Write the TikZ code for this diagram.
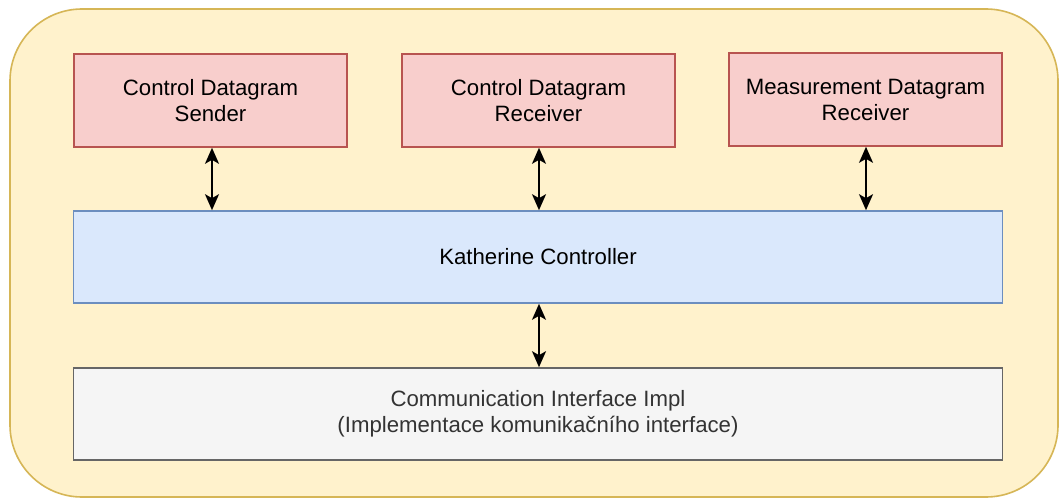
\documentclass[tikz,border=0pt]{standalone}
\usepackage{fontspec}
\setmainfont{Liberation Sans}
\usetikzlibrary{arrows.meta}
\definecolor{outerfill}{HTML}{FFF2CC}
\definecolor{outerline}{HTML}{D6B656}
\definecolor{redfill}{HTML}{F8CECC}
\definecolor{redline}{HTML}{B85450}
\definecolor{bluefill}{HTML}{DAE8FC}
\definecolor{blueline}{HTML}{6C8EBF}
\definecolor{grayfill}{HTML}{F5F5F5}
\definecolor{grayline}{HTML}{666666}
\definecolor{graytext}{HTML}{333333}
\tikzset{
  x=1pt, y=-1pt,
  box/.style={draw, line width=1.6pt, minimum width=273pt, minimum height=93pt,
    align=center, inner sep=0pt, font=\fontsize{22.2}{26}\selectfont},
  redbox/.style={box, fill=redfill, draw=redline},
  widebox/.style={box, minimum width=929pt, minimum height=92pt},
  link/.style={line width=2pt,
    arrows={Stealth[length=16pt,width=14pt,inset=4pt]-Stealth[length=16pt,width=14pt,inset=4pt]}}
}
\begin{document}
\begin{tikzpicture}
  \useasboundingbox (0,0) rectangle (1060,503);
  \fill[white] (0,0) rectangle (1060,503);
  % enclosing component
  \draw[line width=1.6pt, draw=outerline, fill=outerfill, rounded corners=72pt]
    (10,9) rectangle (1058,497);
  % datagram components
  \node[redbox] (sender) at (210.5,100.5) {Control Datagram\\Sender};
  \node[redbox] (ctrlrecv) at (538.5,100.5) {Control Datagram\\Receiver};
  \node[redbox] (measrecv) at (865.5,99.5) {Measurement Datagram\\Receiver};
  % controller and interface layers
  \node[widebox, fill=bluefill, draw=blueline] (ctrl) at (538,257) {Katherine Controller};
  \node[widebox, fill=grayfill, draw=grayline, text=graytext] (iface) at (538,414)
    {\raisebox{-3pt}{\parbox{900pt}{\centering Communication Interface Impl\\(Implementace komunikačního interface)}}};
  % connections
  \draw[link] (sender.south -| 212,0) -- (ctrl.north -| 212,0);
  \draw[link] (ctrlrecv.south -| 539,0) -- (ctrl.north -| 539,0);
  \draw[link] (measrecv.south -| 866,0) -- (ctrl.north -| 866,0);
  \draw[link] (ctrl.south -| 539,0) -- (iface.north -| 539,0);
\end{tikzpicture}
\end{document}
